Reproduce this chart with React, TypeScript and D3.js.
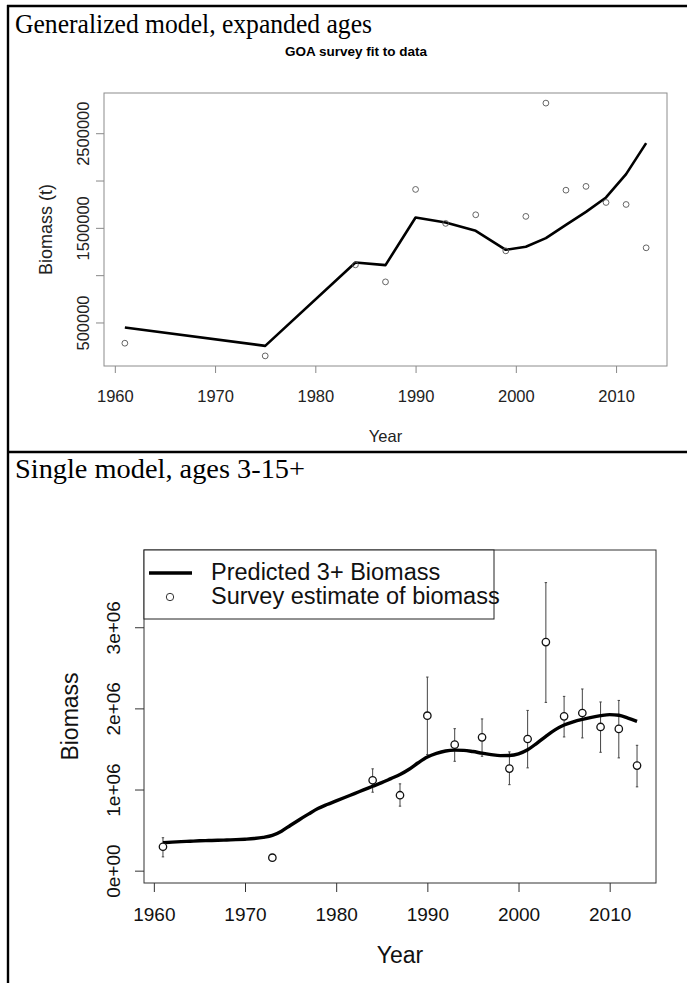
import React, { useEffect, useRef } from 'react'
import * as d3 from 'd3'

// panel 1: generalized model, expanded ages
const topYears = [1961, 1975, 1984, 1987, 1990, 1993, 1996, 1999, 2001, 2003, 2005, 2007, 2009, 2011, 2013]
const topSurvey = [281000, 147000, 1109000, 929000, 1906000, 1547000, 1638000, 1257000, 1621000, 2818000, 1898000, 1938000, 1768000, 1747000, 1289000]
const topFit = [447000, 253000, 1134000, 1106000, 1610000, 1557000, 1469000, 1268000, 1300000, 1391000, 1532000, 1669000, 1821000, 2068000, 2395000]
const topYTicks = [500000, 1000000, 1500000, 2000000, 2500000]
const topYLabels = ['500000', '', '1500000', '', '2500000']

// panel 2: single model, ages 3-15+
const botYears = [1961, 1973, 1984, 1987, 1990, 1993, 1996, 1999, 2001, 2003, 2005, 2007, 2009, 2011, 2013]
const botSurvey = [295000, 160000, 1114000, 930000, 1910000, 1553000, 1643000, 1258000, 1623000, 2817000, 1902000, 1943000, 1771000, 1747000, 1295000]
const botUpper = [406000, 200000, 1255000, 1070000, 2386000, 1750000, 1870000, 1464000, 1975000, 3550000, 2148000, 2239000, 2079000, 2098000, 1545000]
const botLower = [170000, 125000, 967000, 795000, 1431000, 1348000, 1410000, 1060000, 1267000, 2074000, 1648000, 1636000, 1459000, 1390000, 1033000]
const predStart = 1961
const predicted = [
  344000, 352000, 358000, 363000, 368000, 371000, 374000, 378000, 382000, 388000,
  396000, 410000, 434000, 487000, 560000, 631000, 700000, 765000, 815000, 860000,
  905000, 950000, 995000, 1040000, 1085000, 1135000, 1185000, 1250000, 1330000, 1400000,
  1445000, 1475000, 1485000, 1483000, 1468000, 1448000, 1430000, 1418000, 1420000, 1440000,
  1490000, 1570000, 1656000, 1735000, 1795000, 1835000, 1865000, 1890000, 1910000, 1923000,
  1915000, 1880000, 1840000,
]
const botYLim: [number, number] = [0, 3800000]
const botYTicks = [0, 1000000, 2000000, 3000000]
const botYLabels = ['0e+00', '1e+06', '2e+06', '3e+06']

const xTicks = [1960, 1970, 1980, 1990, 2000, 2010]
const legendItems = ['Predicted 3+ Biomass', 'Survey estimate of biomass']

const SANS = 'Liberation Sans, Arial, Helvetica, sans-serif'
const SERIF = 'Liberation Serif, Times New Roman, serif'

// R's default 4% axis extension
function rRange(lo: number, hi: number): [number, number] {
  const pad = (hi - lo) * 0.04
  return [lo - pad, hi + pad]
}

export default function App() {
  const ref = useRef<SVGSVGElement | null>(null)

  useEffect(() => {
    if (!ref.current) return
    const svg = d3.select(ref.current)
    svg.selectAll('*').remove()

    // table frame
    const frame = svg.append('g').attr('stroke', '#000').attr('stroke-width', 2.4)
    frame.append('line').attr('x1', 8).attr('x2', 8).attr('y1', 5).attr('y2', 983)
    frame.append('line').attr('x1', 7).attr('x2', 687).attr('y1', 6).attr('y2', 6)
    frame.append('line').attr('x1', 7).attr('x2', 687).attr('y1', 452).attr('y2', 452)

    svg.append('text').attr('x', 15).attr('y', 33).attr('font-family', SERIF).attr('font-size', 26.5)
      .attr('textLength', 357).attr('lengthAdjust', 'spacingAndGlyphs')
      .text('Generalized model, expanded ages')
    svg.append('text').attr('x', 15).attr('y', 478).attr('font-family', SERIF).attr('font-size', 26.5)
      .attr('textLength', 290).attr('lengthAdjust', 'spacingAndGlyphs')
      .text('Single model, ages 3-15+')

    // ---------- top chart ----------
    {
      const box = { l: 104, t: 93, r: 667, b: 366 }
      const all = topSurvey.concat(topFit)
      const x = d3.scaleLinear().domain(rRange(1961, 2013)).range([box.l, box.r])
      const y = d3.scaleLinear().domain(rRange(d3.min(all)!, d3.max(all)!)).range([box.b, box.t])
      const g = svg.append('g').attr('font-family', SANS)

      g.append('text').attr('x', 356).attr('y', 56).attr('text-anchor', 'middle')
        .attr('font-weight', 'bold').attr('font-size', 13.5).text('GOA survey fit to data')

      const xa = g.append('g').attr('transform', `translate(0,${box.b})`)
        .call(d3.axisBottom(x).tickValues(xTicks).tickSize(7).tickFormat(d3.format('d')))
      xa.select('.domain').remove()
      xa.selectAll('line').attr('stroke', '#888')
      xa.selectAll('text').attr('y', 36).attr('dy', 0).attr('font-size', 16.5).attr('fill', '#222')
        .attr('font-family', SANS)

      const ya = g.append('g').attr('transform', `translate(${box.l},0)`)
        .call(d3.axisLeft(y).tickValues(topYTicks).tickSize(8).tickFormat((_, i) => topYLabels[i]))
      ya.select('.domain').remove()
      ya.selectAll('line').attr('stroke', '#888')
      ya.selectAll('text').attr('x', 0).attr('y', -15).attr('dy', 0).attr('transform', 'rotate(-90)')
        .attr('text-anchor', 'middle').attr('font-size', 16.5).attr('fill', '#222').attr('font-family', SANS)

      g.append('rect').attr('x', box.l).attr('y', box.t).attr('width', box.r - box.l)
        .attr('height', box.b - box.t).attr('fill', 'none').attr('stroke', '#8c8c8c')

      g.append('text').attr('x', (box.l + box.r) / 2).attr('y', 442).attr('text-anchor', 'middle')
        .attr('font-size', 16.5).attr('fill', '#222').text('Year')
      g.append('text').attr('transform', `translate(52,${(box.t + box.b) / 2}) rotate(-90)`)
        .attr('text-anchor', 'middle').attr('font-size', 18).attr('fill', '#222').text('Biomass (t)')

      const line = d3.line<number>().x((_, i) => x(topYears[i])).y((d) => y(d))
      g.append('path').attr('d', line(topFit)).attr('fill', 'none').attr('stroke', '#000')
        .attr('stroke-width', 2.6).attr('stroke-linejoin', 'round')

      g.append('g').selectAll('circle').data(topSurvey).join('circle')
        .attr('cx', (_, i) => x(topYears[i])).attr('cy', (d) => y(d)).attr('r', 2.9)
        .attr('fill', 'none').attr('stroke', '#555').attr('stroke-width', 0.9)
    }

    // ---------- bottom chart ----------
    {
      const box = { l: 144, t: 550, r: 656, b: 883 }
      const x = d3.scaleLinear().domain(rRange(1961, 2013)).range([box.l, box.r])
      const y = d3.scaleLinear().domain(rRange(botYLim[0], botYLim[1])).range([box.b, box.t])
      const g = svg.append('g').attr('font-family', SANS)

      const xa = g.append('g').attr('transform', `translate(0,${box.b})`)
        .call(d3.axisBottom(x).tickValues(xTicks).tickSize(9).tickFormat(d3.format('d')))
      xa.select('.domain').remove()
      xa.selectAll('line').attr('stroke', '#333')
      xa.selectAll('text').attr('y', 38).attr('dy', 0).attr('font-size', 19).attr('fill', '#111')
        .attr('font-family', SANS)

      const ya = g.append('g').attr('transform', `translate(${box.l},0)`)
        .call(d3.axisLeft(y).tickValues(botYTicks).tickSize(9).tickFormat((_, i) => botYLabels[i]))
      ya.select('.domain').remove()
      ya.selectAll('line').attr('stroke', '#333')
      ya.selectAll('text').attr('x', 0).attr('y', -24).attr('dy', 0).attr('transform', 'rotate(-90)')
        .attr('text-anchor', 'middle').attr('font-size', 19).attr('fill', '#111').attr('font-family', SANS)

      g.append('rect').attr('x', box.l).attr('y', box.t).attr('width', box.r - box.l)
        .attr('height', box.b - box.t).attr('fill', 'none').attr('stroke', '#333')

      g.append('text').attr('x', (box.l + box.r) / 2).attr('y', 963).attr('text-anchor', 'middle')
        .attr('font-size', 23).attr('fill', '#111').text('Year')
      g.append('text').attr('transform', `translate(78,${(box.t + box.b) / 2}) rotate(-90)`)
        .attr('text-anchor', 'middle').attr('font-size', 23).attr('fill', '#111').text('Biomass')

      // error bars
      const eb = g.append('g').attr('stroke', '#444').attr('stroke-width', 1)
      botYears.forEach((yr, i) => {
        const cx = x(yr)
        eb.append('line').attr('x1', cx).attr('x2', cx).attr('y1', y(botUpper[i])).attr('y2', y(botLower[i]))
        eb.append('line').attr('x1', cx - 1.2).attr('x2', cx + 1.2).attr('y1', y(botUpper[i])).attr('y2', y(botUpper[i]))
        eb.append('line').attr('x1', cx - 1.2).attr('x2', cx + 1.2).attr('y1', y(botLower[i])).attr('y2', y(botLower[i]))
      })

      const line = d3.line<number>().x((_, i) => x(predStart + i)).y((d) => y(d)).curve(d3.curveMonotoneX)
      g.append('path').attr('d', line(predicted)).attr('fill', 'none').attr('stroke', '#000')
        .attr('stroke-width', 3.4).attr('stroke-linejoin', 'round')

      g.append('g').selectAll('circle').data(botSurvey).join('circle')
        .attr('cx', (_, i) => x(botYears[i])).attr('cy', (d) => y(d)).attr('r', 3.7)
        .attr('fill', '#fff').attr('stroke', '#111').attr('stroke-width', 1.3)

      // legend
      const lg = g.append('g')
      lg.append('rect').attr('x', box.l).attr('y', box.t).attr('width', 350).attr('height', 69)
        .attr('fill', '#fff').attr('stroke', '#222')
      lg.append('line').attr('x1', 149).attr('x2', 192).attr('y1', 573).attr('y2', 573)
        .attr('stroke', '#000').attr('stroke-width', 3.4)
      lg.append('circle').attr('cx', 170).attr('cy', 597).attr('r', 3.7).attr('fill', 'none')
        .attr('stroke', '#333').attr('stroke-width', 1)
      lg.selectAll('text.leg').data(legendItems).join('text').attr('class', 'leg')
        .attr('x', 211).attr('y', (_, i) => 580 + i * 24).attr('font-size', 23.5).attr('fill', '#111')
        .text((d) => d)
    }
  }, [])

  return (
    <svg
      ref={ref}
      width={687}
      height={983}
      style={{ position: 'absolute', left: 0, top: 0, background: '#fff' }}
    />
  )
}
